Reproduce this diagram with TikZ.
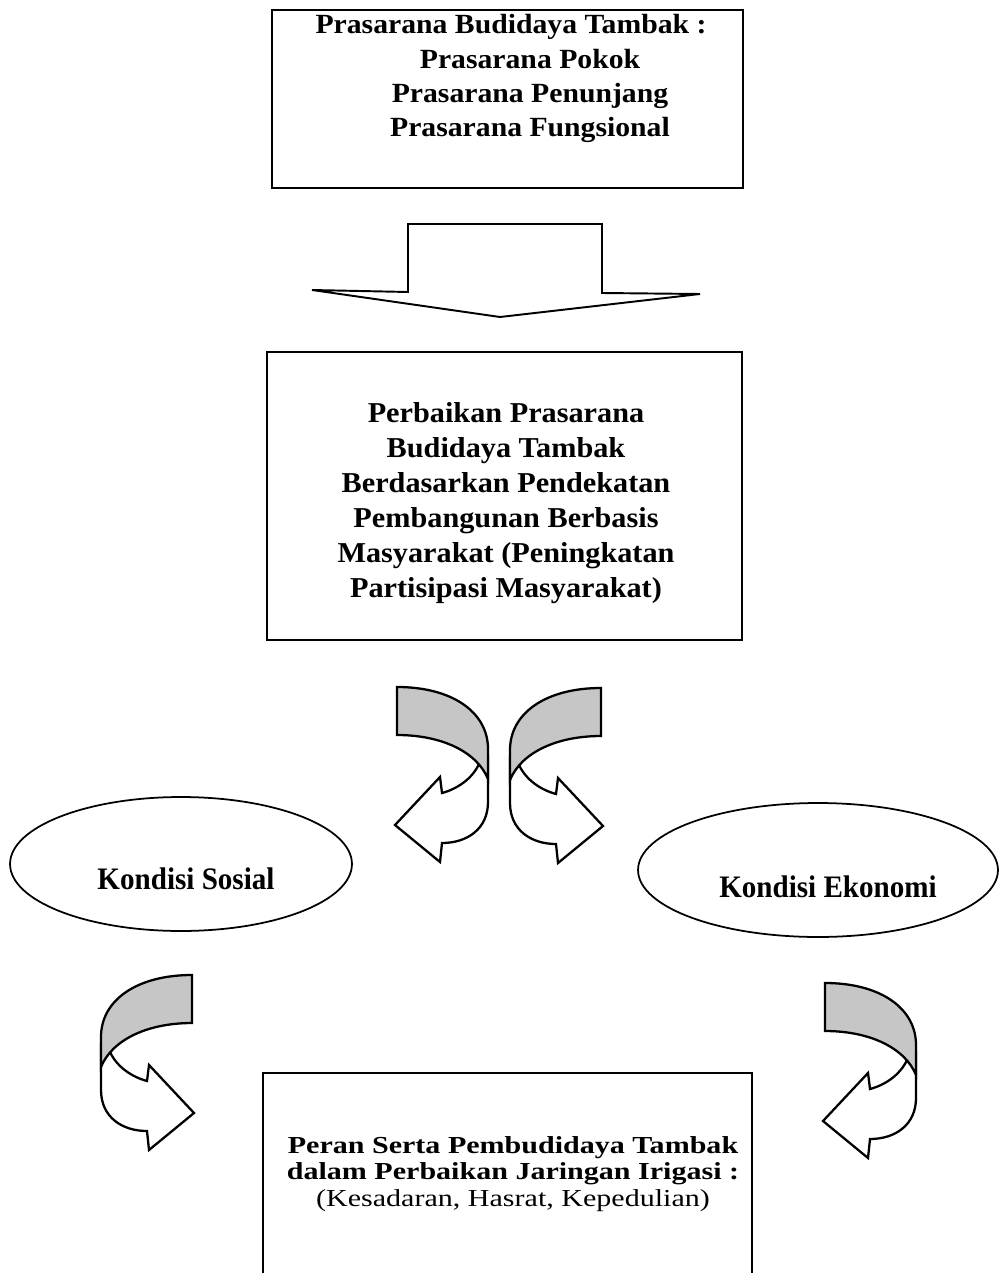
\documentclass[tikz,border=0pt]{standalone}
\usepackage{fontspec}
\setmainfont{Liberation Serif}
\newfontfamily\hurufatas{Liberation Serif}[FakeStretch=1.07]
\newfontfamily\hurufdalam{Liberation Serif}[FakeStretch=1.05]
\newfontfamily\hurufbawah{Liberation Serif}[FakeStretch=1.23]
\newfontfamily\hurufelips{Liberation Serif}[FakeStretch=0.93]
\usetikzlibrary{shapes.geometric}

\tikzset{
    kotak/.style={draw, line width=1.1pt, inner sep=0pt},
    bulat/.style={ellipse, draw, line width=1pt, inner sep=0pt},
    pita/.style={draw, line width=1.3pt, line join=miter},
    pics/lengkung/.style={code={
        % bagian putih dengan kepala panah
        \filldraw[pita, fill=white] (91,70) -- (91,115) .. controls (91,142) and (70,156) .. (45,156)
            -- (43,175) -- (-2,138) -- (43,90) -- (45,106) .. controls (60,102) and (75,92) .. (82,77) -- cycle;
        % bagian belakang yang diarsir
        \filldraw[pita, fill=gray!45] (0,0) .. controls (55,0) and (91,25) .. (91,62)
            -- (91,92) .. controls (80,65) and (45,48) .. (0,48) -- cycle;
    }}
}

\begin{document}
\begin{tikzpicture}[x=0.02cm, y=-0.02cm]
    \useasboundingbox (0,0) rectangle (1000,1273);

    % kotak atas
    \node[kotak, minimum width=9.42cm, minimum height=3.56cm] (prasarana) at (507.5,99) {};
    \node[font={\hurufatas\bfseries\fontsize{15.8}{19.3}\selectfont}] (judul) at (511,27) {Prasarana Budidaya Tambak :};
    \node[align=center, font={\hurufatas\bfseries\fontsize{15.8}{19.3}\selectfont}] (daftar) at (530,96)
        {Prasarana Pokok\\Prasarana Penunjang\\Prasarana Fungsional};

    % panah blok
    \draw[line width=1.1pt] (408,224) -- (602,224) -- (602,293) -- (700,294) -- (500,317) -- (312,290) -- (408,292) -- cycle;

    % kotak tengah
    \node[kotak, minimum width=9.5cm, minimum height=5.76cm] (perbaikan) at (504.5,496) {};
    \node[align=center, font={\hurufdalam\bfseries\fontsize{16.4}{19.9}\selectfont}] (isi) at (506,503)
        {Perbaikan Prasarana\\Budidaya Tambak\\Berdasarkan Pendekatan\\Pembangunan Berbasis\\Masyarakat (Peningkatan\\Partisipasi Masyarakat)};

    % panah lengkung
    \pic at (397,687) {lengkung};
    \pic[xscale=-1] at (601,688) {lengkung};
    \pic[xscale=-1] at (192,975) {lengkung};
    \pic at (825,983) {lengkung};

    % elips
    \node[bulat, minimum width=6.84cm, minimum height=2.68cm] (sosial) at (181,864) {};
    \node[font={\hurufelips\bfseries\fontsize{17.8}{20}\selectfont}] (teksSosial) at (186,879) {Kondisi Sosial};
    \node[bulat, minimum width=7.2cm, minimum height=2.68cm] (ekonomi) at (818,870) {};
    \node[font={\hurufelips\bfseries\fontsize{17.8}{20}\selectfont}] (teksEkonomi) at (828,887) {Kondisi Ekonomi};

    % kotak bawah
    \node[kotak, minimum width=9.78cm, minimum height=4.34cm] (peran) at (507.5,1181.5) {};
    \node[align=center, font={\hurufbawah\bfseries\fontsize{13.9}{14.9}\selectfont}] (teksPeran) at (513,1174)
        {Peran Serta Pembudidaya Tambak\\dalam Perbaikan Jaringan Irigasi :\\{\mdseries(Kesadaran, Hasrat, Kepedulian)}};
\end{tikzpicture}
\end{document}
